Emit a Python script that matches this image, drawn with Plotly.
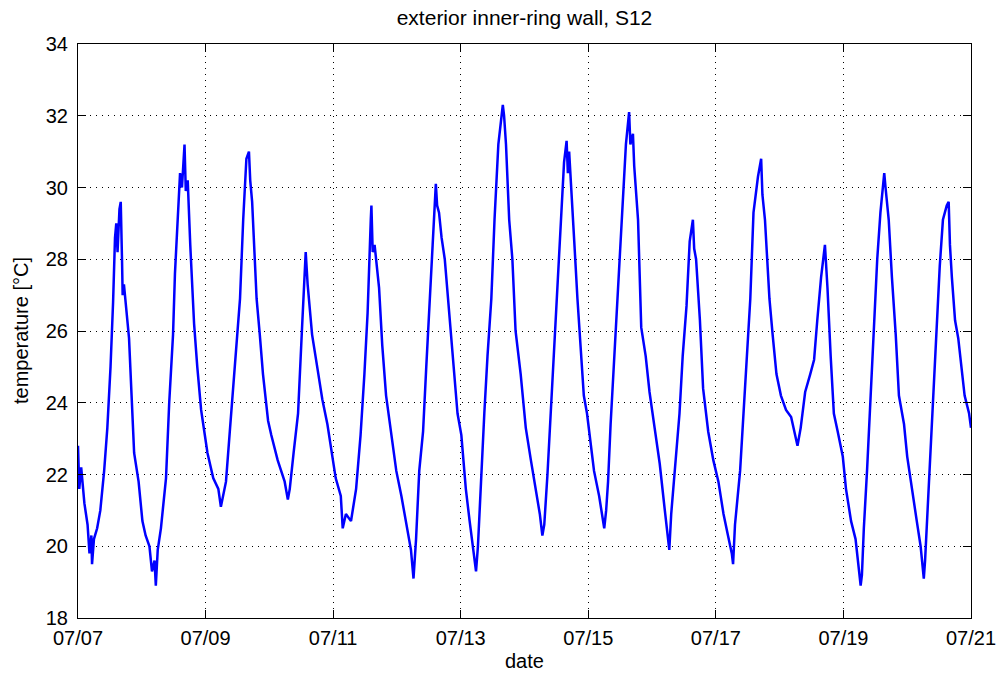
import pandas as pd
import plotly.graph_objects as go

# elapsed time since 07/07 00:00, in days
days = [
    0.00, 0.02, 0.05, 0.10, 0.15, 0.18, 0.21, 0.22, 0.25, 0.30, 0.35, 0.41, 0.46, 0.51, 0.55, 0.58,
    0.60, 0.62, 0.65, 0.67, 0.69, 0.70, 0.72, 0.75, 0.80, 0.84, 0.88, 0.95, 1.01, 1.06, 1.12, 1.16,
    1.20, 1.22, 1.25, 1.30, 1.38, 1.43, 1.49, 1.52, 1.56, 1.60, 1.63, 1.67, 1.69, 1.72, 1.76, 1.82,
    1.87, 1.93, 1.98, 2.03, 2.12, 2.20, 2.24, 2.27, 2.32, 2.38, 2.46, 2.54, 2.59, 2.64, 2.68, 2.70,
    2.73, 2.80, 2.85, 2.90, 2.98, 3.03, 3.13, 3.24, 3.29, 3.32, 3.38, 3.45, 3.51, 3.55, 3.57, 3.60,
    3.62, 3.67, 3.75, 3.83, 3.91, 3.98, 4.04, 4.12, 4.15, 4.20, 4.28, 4.36, 4.43, 4.49, 4.54, 4.59,
    4.60, 4.62, 4.65, 4.72, 4.77, 4.83, 4.91, 4.99, 5.07, 5.14, 5.22, 5.26, 5.30, 5.35, 5.41, 5.46,
    5.51, 5.56, 5.61, 5.63, 5.66, 5.70, 5.75, 5.80, 5.88, 5.95, 6.01, 6.08, 6.14, 6.21, 6.24, 6.27,
    6.32, 6.37, 6.42, 6.48, 6.53, 6.59, 6.66, 6.68, 6.71, 6.76, 6.81, 6.86, 6.94, 7.02, 7.10, 7.17,
    7.24, 7.28, 7.31, 7.36, 7.41, 7.46, 7.51, 7.56, 7.62, 7.66, 7.68, 7.70, 7.72, 7.78, 7.83, 7.88,
    7.93, 7.98, 8.04, 8.09, 8.17, 8.22, 8.25, 8.28, 8.31, 8.35, 8.40, 8.47, 8.54, 8.59, 8.64, 8.66,
    8.70, 8.72, 8.78, 8.83, 8.90, 8.96, 9.04, 9.12, 9.20, 9.24, 9.27, 9.30, 9.37, 9.43, 9.48, 9.54,
    9.59, 9.64, 9.66, 9.69, 9.75, 9.80, 9.88, 9.96, 10.04, 10.12, 10.19, 10.25, 10.27, 10.30, 10.38,
    10.43, 10.48, 10.54, 10.59, 10.66, 10.71, 10.73, 10.77, 10.79, 10.84, 10.89, 10.95, 11.02, 11.10,
    11.18, 11.26, 11.28, 11.33, 11.40, 11.48, 11.54, 11.59, 11.65, 11.71, 11.75, 11.80, 11.85, 11.91,
    11.99, 12.04, 12.12, 12.19, 12.24, 12.27, 12.29, 12.32, 12.37, 12.43, 12.48, 12.53, 12.58, 12.64,
    12.66, 12.71, 12.76, 12.82, 12.87, 12.95, 13.00, 13.08, 13.15, 13.21, 13.26, 13.28, 13.31, 13.36,
    13.41, 13.46, 13.51, 13.56, 13.62, 13.65, 13.67, 13.70, 13.75, 13.80, 13.85, 13.90, 13.97, 14.00,
]

# temperature readings, °C
temperature = [
    22.8, 21.6, 22.2, 21.2, 20.6, 19.8, 20.3, 19.5, 20.2, 20.5, 21.0, 22.1, 23.3, 25.0, 26.8, 28.6,
    29.0, 28.2, 29.4, 29.6, 28.0, 27.0, 27.3, 26.8, 25.8, 24.2, 22.6, 21.8, 20.7, 20.3, 20.0, 19.3,
    19.6, 18.9, 19.9, 20.5, 21.9, 24.0, 25.9, 27.6, 29.2, 30.4, 30.0, 31.2, 29.9, 30.2, 28.4, 26.2,
    25.0, 23.8, 23.2, 22.6, 21.9, 21.6, 21.1, 21.4, 21.8, 23.2, 25.0, 26.9, 29.1, 30.8, 31.0, 30.2,
    29.6, 26.9, 25.9, 24.8, 23.5, 23.1, 22.4, 21.8, 21.3, 21.6, 22.6, 23.7, 26.0, 27.5, 28.2, 27.3,
    26.9, 25.9, 25.0, 24.1, 23.4, 22.6, 21.9, 21.4, 20.5, 20.9, 20.7, 21.6, 23.1, 24.8, 26.5, 29.1,
    29.5, 28.2, 28.4, 27.2, 25.6, 24.2, 23.1, 22.1, 21.4, 20.7, 19.9, 19.1, 20.2, 22.1, 23.2, 25.0,
    26.9, 28.4, 30.1, 29.5, 29.3, 28.6, 28.0, 26.9, 25.0, 23.7, 23.1, 21.6, 20.7, 19.6, 19.3, 20.0,
    22.1, 23.7, 25.3, 26.9, 29.1, 31.2, 32.3, 32.0, 31.2, 29.1, 28.0, 26.0, 24.8, 23.3, 22.4, 21.6,
    20.9, 20.3, 20.6, 22.0, 23.7, 25.3, 26.9, 28.7, 30.7, 31.3, 30.4, 31.0, 30.3, 28.5, 26.9, 25.6,
    24.2, 23.7, 22.9, 22.1, 21.4, 20.8, 20.5, 21.0, 21.8, 23.4, 25.0, 27.2, 29.6, 31.2, 32.1, 31.2,
    31.5, 30.6, 29.1, 26.1, 25.3, 24.3, 23.3, 22.3, 21.0, 20.3, 19.9, 20.9, 22.4, 23.7, 25.3, 26.7,
    28.5, 29.1, 28.3, 28.0, 26.3, 24.4, 23.2, 22.4, 21.8, 20.9, 20.3, 19.8, 19.5, 20.6, 22.1,
    23.7, 25.3, 26.9, 29.3, 30.3, 30.8, 29.8, 29.1, 28.5, 26.9, 25.9, 24.8, 24.2, 23.8,
    23.6, 23.0, 22.8, 23.3, 24.3, 24.8, 25.2, 26.3, 27.5, 28.4, 27.2, 25.3, 23.7, 23.2,
    22.5, 21.6, 20.7, 20.2, 19.4, 18.9, 19.2, 20.5, 22.1, 24.2, 26.0, 28.0, 29.3, 30.4,
    30.0, 29.1, 27.5, 25.9, 24.2, 23.4, 22.5, 21.6, 20.7, 20.0, 19.1, 19.6, 20.7, 22.6,
    24.1, 25.9, 27.8, 29.1, 29.5, 29.6, 28.4, 27.5, 26.3, 25.8, 25.0, 24.2, 23.7, 23.3,
]

start_date = "2010-07-07"
end_date = "2010-07-21"
y_ticks = [18, 20, 22, 24, 26, 28, 30, 32, 34]

times = pd.Timestamp(start_date) + pd.to_timedelta(days, unit="D")

FONT = "Liberation Sans, Arial, Helvetica, sans-serif"
W, H = 997, 679
ML, MR, MT, MB = 78, 26, 44, 61
PW, PH = W - ML - MR, H - MT - MB

fig = go.Figure()
fig.add_trace(go.Scatter(
    x=times, y=temperature, mode="lines",
    line=dict(color="#0000FF", width=2.5),
    showlegend=False,
))

axis_common = dict(
    showline=True, linecolor="black", linewidth=1, mirror="ticks",
    ticks="inside", ticklen=8, tickcolor="black", tickwidth=1,
    showgrid=True, gridcolor="black", gridwidth=1, griddash="1px,5px",
    zeroline=False, automargin=False,
    tickfont=dict(family=FONT, size=20, color="black"),
)

fig.update_xaxes(
    type="date", range=[start_date, end_date],
    tick0=start_date, dtick=2 * 86400000, tickformat="%m/%d",
    ticklabelstandoff=2,
    **axis_common,
)
fig.update_yaxes(
    range=[18, 34], tickvals=y_ticks, ticktext=[str(v) for v in y_ticks],
    ticklabelstandoff=5,
    **axis_common,
)

fig.update_layout(
    width=W, height=H,
    margin=dict(l=ML, r=MR, t=MT, b=MB, pad=0),
    paper_bgcolor="white", plot_bgcolor="white",
    title=dict(text="exterior inner-ring wall, S12", xref="paper", x=0.5, xanchor="center",
               yref="container", y=1 - 18 / H, yanchor="middle",
               font=dict(family=FONT, size=21, color="black")),
    font=dict(family=FONT, size=20, color="black"),
    annotations=[
        dict(text="date", xref="paper", yref="paper", x=0.5, y=-(661 - MT - PH) / PH,
             xanchor="center", yanchor="middle", showarrow=False,
             font=dict(family=FONT, size=20, color="black")),
        dict(text="temperature [°C]", xref="paper", yref="paper", x=(21 - ML) / PW, y=0.5,
             xanchor="center", yanchor="middle", showarrow=False, textangle=-90,
             font=dict(family=FONT, size=20, color="black")),
    ],
)

fig.write_html(
    "out.html",
    config={"displayModeBar": False},
    post_script="document.body.style.margin='0';document.body.style.overflow='hidden';",
)
